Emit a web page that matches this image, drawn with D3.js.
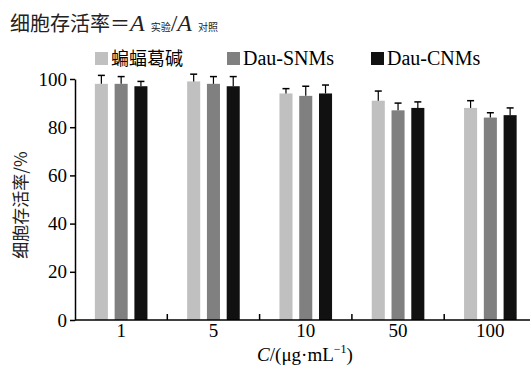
<!DOCTYPE html>
<html lang="en">
<head>
<meta charset="UTF-8">
<script src="https://d3js.org/d3.v7.min.js"></script>
<style>
    body { margin: 0; background: #fff; }
    svg { display: block; }
</style>
</head>
<body>
<svg id="chart" width="530" height="369"></svg>
<script>
    // data
    const concentrations = ["1", "5", "10", "50", "100"];
    const seriesNames = ["蝙蝠葛碱", "Dau-SNMs", "Dau-CNMs"];
    const menispermine = [98, 99, 94, 91, 88];
    const dauSNMs = [98, 98, 93, 87, 84];
    const dauCNMs = [97, 97, 94, 88, 85];
    const menispermineErr = [3.5, 3, 2, 4, 3];
    const dauSNMsErr = [3, 3, 4, 3, 2];
    const dauCNMsErr = [2, 4, 3.5, 2.5, 3];
    const yTicks = [0, 20, 40, 60, 80, 100];

    const values = [menispermine, dauSNMs, dauCNMs];
    const errors = [menispermineErr, dauSNMsErr, dauCNMsErr];
    const colors = ["#c0c0c0", "#808080", "#111111"];

    const SERIF = "'Liberation Serif', 'Times New Roman', 'DejaVu Serif', serif";
    const CJK = "'Noto Sans CJK SC', sans-serif";

    const svg = d3.select("#chart");

    const x0 = d3.scaleBand()
        .domain(concentrations)
        .range([75, 75 + 5 * 92.3]);

    const x1 = d3.scaleBand()
        .domain(seriesNames)
        .range([19.85, 72.45])
        .paddingInner(0.34);

    const y = d3.scaleLinear()
        .domain([0, 100])
        .range([320, 79]);

    // bars
    seriesNames.forEach((name, s) => {
        const g = svg.append("g").attr("fill", colors[s]);
        concentrations.forEach((c, i) => {
            const bx = x0(c) + x1(name);
            const v = values[s][i];
            g.append("rect")
                .attr("x", bx)
                .attr("y", y(v))
                .attr("width", x1.bandwidth())
                .attr("height", y(0) - y(v));

            // upper error bar
            const cx = bx + x1.bandwidth() / 2;
            const top = y(v + errors[s][i]);
            svg.append("line")
                .attr("x1", cx).attr("x2", cx)
                .attr("y1", y(v)).attr("y2", top)
                .attr("stroke", "#000").attr("stroke-width", 1.2);
            svg.append("line")
                .attr("x1", cx - 3.5).attr("x2", cx + 3.5)
                .attr("y1", top).attr("y2", top)
                .attr("stroke", "#000").attr("stroke-width", 1.5);
        });
    });

    // y axis
    const yAxis = svg.append("g")
        .attr("transform", "translate(75,0)")
        .call(d3.axisLeft(y).tickValues(yTicks).tickSize(5).tickPadding(3).tickSizeOuter(0))
        .attr("font-family", SERIF)
        .attr("font-size", 19);
    yAxis.select(".domain").attr("stroke-width", 1.5);
    yAxis.selectAll(".tick line").attr("stroke-width", 1.5);
    yAxis.selectAll("text")
        .style("font-family", SERIF)
        .attr("fill", "#000");

    // x axis: ticks at band boundaries pointing up, labels at band centres
    const xAxis = svg.append("g").attr("transform", "translate(0,320)");
    xAxis.append("line")
        .attr("x1", 75).attr("x2", 540)
        .attr("stroke", "#000").attr("stroke-width", 1.5);
    concentrations.slice(1).forEach(c => {
        xAxis.append("line")
            .attr("x1", x0(c)).attr("x2", x0(c))
            .attr("y1", 0).attr("y2", -6)
            .attr("stroke", "#000").attr("stroke-width", 1.5);
    });
    concentrations.forEach(c => {
        xAxis.append("text")
            .style("font-family", SERIF)
            .attr("x", x0(c) + x0.bandwidth() / 2)
            .attr("y", 17)
            .attr("text-anchor", "middle")
            .attr("font-size", 19)
            .text(c);
    });

    // x axis title
    const xt = svg.append("text")
        .style("font-family", SERIF)
        .attr("x", 305)
        .attr("y", 361)
        .attr("text-anchor", "middle")
        .attr("font-size", 19);
    xt.append("tspan").attr("font-style", "italic").text("C");
    xt.append("tspan").text("/(μg·mL");
    xt.append("tspan").attr("dy", -8).attr("font-size", 12).text("−1");
    xt.append("tspan").attr("dy", 8).text(")");

    // y axis title
    svg.append("text")
        .style("font-family", CJK)
        .attr("transform", "translate(27,205) rotate(-90)")
        .attr("text-anchor", "middle")
        .attr("font-size", 17)
        .attr("fill", "#222")
        .text("细胞存活率/%");

    // title formula
    const title = svg.append("text")
        .attr("x", 10)
        .attr("y", 31)
        .attr("font-size", 20)
        .attr("fill", "#222");
    title.append("tspan").style("font-family", CJK).text("细胞存活率＝");
    title.append("tspan").style("font-family", SERIF).attr("font-style", "italic").attr("font-size", 24).text("A");
    title.append("tspan").style("font-family", CJK).attr("font-size", 10).attr("dx", 6).text("实验");
    title.append("tspan").style("font-family", SERIF).attr("font-size", 24).text("/");
    title.append("tspan").style("font-family", SERIF).attr("font-style", "italic").attr("font-size", 24).text("A");
    title.append("tspan").style("font-family", CJK).attr("font-size", 10).attr("dx", 6).text("对照");

    // legend
    const legendX = [95, 227, 371];
    seriesNames.forEach((name, s) => {
        svg.append("rect")
            .attr("x", legendX[s])
            .attr("y", 52)
            .attr("width", 13)
            .attr("height", 13)
            .attr("fill", colors[s]);
        svg.append("text")
            .style("font-family", s === 0 ? CJK : SERIF)
            .attr("x", legendX[s] + 16)
            .attr("y", 65)
            .attr("font-size", s === 0 ? 18 : 20)
            .attr("fill", "#000")
            .text(name);
    });
</script>
</body>
</html>
